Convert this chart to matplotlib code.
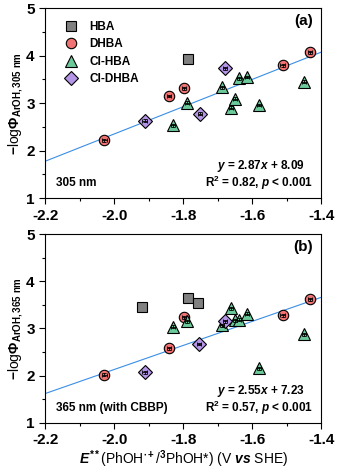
import numpy as np
import matplotlib
matplotlib.use("Agg")
import matplotlib.pyplot as plt
from matplotlib.ticker import MultipleLocator, FormatStrFormatter

plt.rcParams['font.family'] = ['Liberation Sans Narrow', 'Liberation Sans', 'DejaVu Sans']
plt.rcParams['font.weight'] = 'bold'
plt.rcParams['axes.unicode_minus'] = False
plt.rcParams['mathtext.fontset'] = 'custom'
plt.rcParams['mathtext.rm'] = 'Liberation Sans:bold'
plt.rcParams['mathtext.it'] = 'Liberation Sans:bold:italic'
plt.rcParams['mathtext.bf'] = 'Liberation Sans:bold'

# panel (a), 305 nm
a_hba_x = [-1.786]
a_hba_y = [3.92]
a_dhba_x = [-2.028, -1.840, -1.798, -1.512, -1.432]
a_dhba_y = [2.22, 3.15, 3.31, 3.80, 4.07]
a_clhba_x = [-1.830, -1.788, -1.688, -1.662, -1.649, -1.638, -1.615, -1.581, -1.450]
a_clhba_y = [2.53, 3.01, 3.33, 2.90, 3.09, 3.52, 3.55, 2.96, 3.45]
a_cldhba_x = [-1.912, -1.752, -1.678]
a_cldhba_y = [2.63, 2.78, 3.73]
a_fit = (2.87, 8.09)

# panel (b), 365 nm with CBBP
b_hba_x = [-1.920, -1.786, -1.758]
b_hba_y = [3.45, 3.64, 3.53]
b_dhba_x = [-2.028, -1.840, -1.798, -1.512, -1.432]
b_dhba_y = [2.02, 2.58, 3.24, 3.28, 3.62]
b_clhba_x = [-1.830, -1.788, -1.688, -1.662, -1.649, -1.637, -1.615, -1.581, -1.449]
b_clhba_y = [3.04, 3.15, 3.07, 3.43, 3.17, 3.19, 3.31, 2.16, 2.88]
b_cldhba_x = [-1.912, -1.753, -1.678]
b_cldhba_y = [2.07, 2.67, 3.15]
b_fit = (2.55, 7.23)

names = ['HBA', 'DHBA', 'Cl-HBA', 'Cl-DHBA']
markers = ['s', 'o', '^', 'D']
colors = ['#808080', '#f07272', '#6cc99a', '#b495e6']
sizes = [7.5, 7.5, 8.5, 7]


def draw_panel(ax, groups, fit, tag, wl_text, ylab, eq, legend=False):
    for (xs, ys), name, m, c, s in zip(groups, names, markers, colors, sizes):
        ax.plot(xs, ys, linestyle='none', marker=m, color=c, ms=s,
                mec='black', mew=0.8, label=name, zorder=3)
        if name != 'HBA':
            ax.errorbar(xs, ys, xerr=0.006, yerr=0.03, fmt='none', ecolor='black',
                        elinewidth=0.6, capsize=1.5, capthick=0.6, zorder=4)
    xx = np.array([-2.2, -1.4])
    ax.plot(xx, fit[0] * xx + fit[1], color='#3a8ee6', lw=0.8, zorder=2)

    ax.set_xlim(-2.2, -1.4)
    ax.set_ylim(1, 5)
    ax.xaxis.set_major_locator(MultipleLocator(0.2))
    ax.xaxis.set_minor_locator(MultipleLocator(0.1))
    ax.yaxis.set_major_locator(MultipleLocator(1))
    ax.yaxis.set_minor_locator(MultipleLocator(0.5))
    ax.xaxis.set_major_formatter(FormatStrFormatter('%.1f'))
    ax.tick_params(which='both', direction='out', top=False, right=False,
                   labelsize=11, width=0.8)
    ax.tick_params(which='major', length=4)
    ax.tick_params(which='minor', length=2)
    for sp in ax.spines.values():
        sp.set_linewidth(0.8)
    ax.set_ylabel(ylab, fontsize=10, labelpad=1)

    ax.text(0.97, 0.93, tag, transform=ax.transAxes, ha='right', va='center',
            fontsize=11)
    ax.text(0.04, 0.08, wl_text, transform=ax.transAxes, ha='left', va='center',
            fontsize=8.5)
    ax.text(0.94, 0.17, eq[0], transform=ax.transAxes, ha='right', va='center',
            fontsize=8.5)
    ax.text(0.97, 0.08, eq[1], transform=ax.transAxes, ha='right', va='center',
            fontsize=8.5)
    if legend:
        ax.legend(loc='upper left', bbox_to_anchor=(0.02, 0.975), frameon=False,
                  fontsize=8.5, handletextpad=0.6, labelspacing=0.45,
                  borderaxespad=0.3)


fig = plt.figure(figsize=(3.37, 4.74), dpi=100)
ax1 = fig.add_axes([0.134, 0.582, 0.819, 0.401])
ax2 = fig.add_axes([0.134, 0.108, 0.819, 0.398])

draw_panel(ax1,
           [(a_hba_x, a_hba_y), (a_dhba_x, a_dhba_y),
            (a_clhba_x, a_clhba_y), (a_cldhba_x, a_cldhba_y)],
           a_fit, '(a)', '305 nm', r'$-$log$\Phi_{\mathrm{ArOH,305\ nm}}$',
           [r'$y$ = 2.87$x$ + 8.09', r'R$^2$ = 0.82, $p$ < 0.001'], legend=True)
draw_panel(ax2,
           [(b_hba_x, b_hba_y), (b_dhba_x, b_dhba_y),
            (b_clhba_x, b_clhba_y), (b_cldhba_x, b_cldhba_y)],
           b_fit, '(b)', '365 nm (with CBBP)', r'$-$log$\Phi_{\mathrm{ArOH,365\ nm}}$',
           [r'$y$ = 2.55$x$ + 7.23', r'R$^2$ = 0.57, $p$ < 0.001'])

ax2.set_xlabel(r'$E^{\mathrm{**}}$(PhOH$^{\mathrm{\bullet+}}$/$^{\mathrm{3}}$PhOH*) (V $vs$ SHE)',
               fontsize=10, labelpad=1)

fig.savefig('out.png', dpi=100)
